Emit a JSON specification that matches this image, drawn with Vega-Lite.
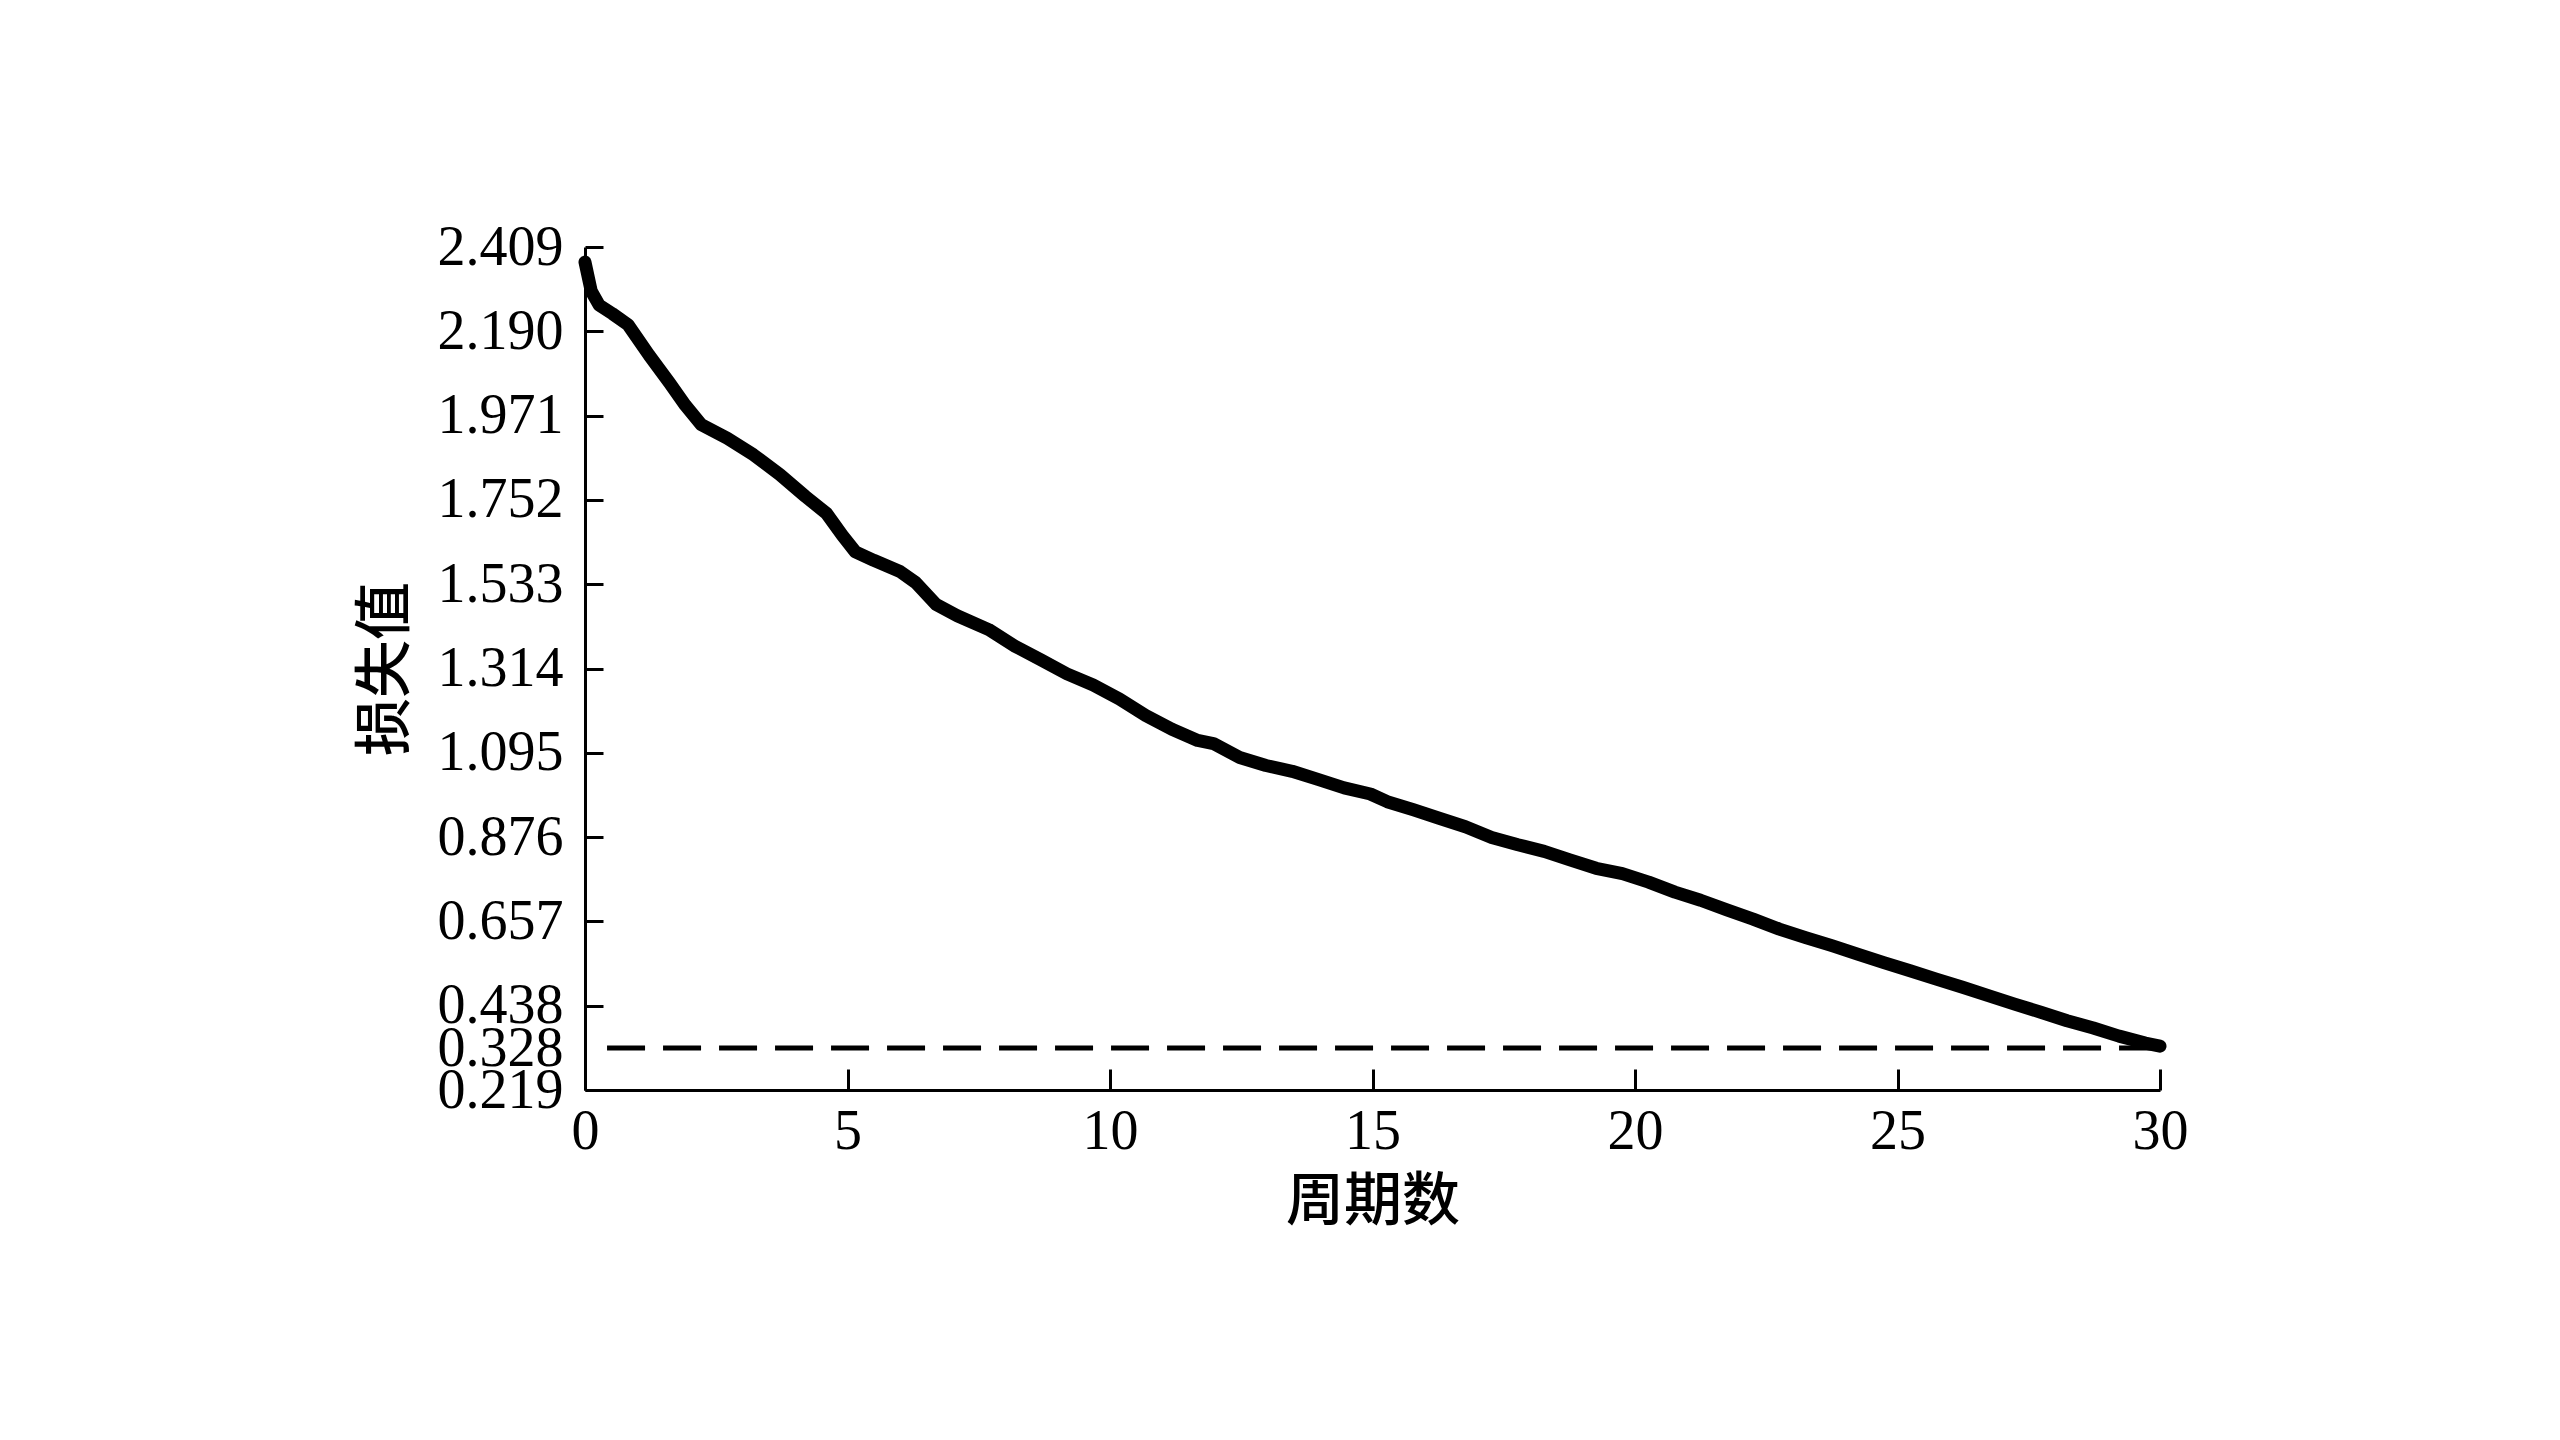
{
  "$schema": "https://vega.github.io/schema/vega-lite/v6.json",
  "description": "Loss value per epoch with a dashed reference level at 0.328.",
  "autosize": "none",
  "padding": {"left": 585, "top": 247, "right": 400, "bottom": 350},
  "width": 1575,
  "height": 843,
  "background": "white",
  "datasets": {
    "curve": [
      {"epoch": 0, "loss": 2.37},
      {"epoch": 0.12, "loss": 2.294},
      {"epoch": 0.27, "loss": 2.258},
      {"epoch": 0.52, "loss": 2.236},
      {"epoch": 0.82, "loss": 2.207},
      {"epoch": 1.22, "loss": 2.128},
      {"epoch": 1.61, "loss": 2.056},
      {"epoch": 1.91, "loss": 1.998},
      {"epoch": 2.21, "loss": 1.948},
      {"epoch": 2.71, "loss": 1.912},
      {"epoch": 3.21, "loss": 1.869},
      {"epoch": 3.71, "loss": 1.818},
      {"epoch": 4.2, "loss": 1.761},
      {"epoch": 4.6, "loss": 1.717},
      {"epoch": 4.9, "loss": 1.66},
      {"epoch": 5.15, "loss": 1.617},
      {"epoch": 5.5, "loss": 1.595},
      {"epoch": 6.0, "loss": 1.566},
      {"epoch": 6.3, "loss": 1.537},
      {"epoch": 6.69, "loss": 1.48},
      {"epoch": 7.09, "loss": 1.451},
      {"epoch": 7.69, "loss": 1.415},
      {"epoch": 8.19, "loss": 1.372},
      {"epoch": 8.69, "loss": 1.336},
      {"epoch": 9.18, "loss": 1.3},
      {"epoch": 9.68, "loss": 1.271},
      {"epoch": 10.18, "loss": 1.235},
      {"epoch": 10.68, "loss": 1.192},
      {"epoch": 11.18, "loss": 1.156},
      {"epoch": 11.67, "loss": 1.127},
      {"epoch": 11.97, "loss": 1.119},
      {"epoch": 12.47, "loss": 1.083},
      {"epoch": 12.97, "loss": 1.062},
      {"epoch": 13.47, "loss": 1.047},
      {"epoch": 13.96, "loss": 1.026},
      {"epoch": 14.46, "loss": 1.004},
      {"epoch": 14.96, "loss": 0.988},
      {"epoch": 15.28, "loss": 0.968},
      {"epoch": 15.78, "loss": 0.947},
      {"epoch": 16.27, "loss": 0.925},
      {"epoch": 16.77, "loss": 0.903},
      {"epoch": 17.27, "loss": 0.875},
      {"epoch": 17.77, "loss": 0.856},
      {"epoch": 18.27, "loss": 0.839},
      {"epoch": 18.76, "loss": 0.817},
      {"epoch": 19.26, "loss": 0.795},
      {"epoch": 19.76, "loss": 0.781},
      {"epoch": 20.26, "loss": 0.759},
      {"epoch": 20.76, "loss": 0.733},
      {"epoch": 21.25, "loss": 0.712},
      {"epoch": 21.75, "loss": 0.687},
      {"epoch": 22.25, "loss": 0.663},
      {"epoch": 22.75, "loss": 0.637},
      {"epoch": 23.25, "loss": 0.615},
      {"epoch": 23.75, "loss": 0.594},
      {"epoch": 24.24, "loss": 0.572},
      {"epoch": 24.74, "loss": 0.55},
      {"epoch": 25.24, "loss": 0.529},
      {"epoch": 25.74, "loss": 0.507},
      {"epoch": 26.24, "loss": 0.486},
      {"epoch": 26.73, "loss": 0.464},
      {"epoch": 27.23, "loss": 0.442},
      {"epoch": 27.73, "loss": 0.421},
      {"epoch": 28.23, "loss": 0.399},
      {"epoch": 28.73, "loss": 0.38},
      {"epoch": 29.22, "loss": 0.359},
      {"epoch": 29.72, "loss": 0.341},
      {"epoch": 30, "loss": 0.333}
    ],
    "reference": [
      {"start": 0.42, "end": 30, "loss": 0.328}
    ]
  },
  "config": {
    "view": {"stroke": null},
    "axis": {
      "grid": false,
      "domainColor": "black",
      "domainWidth": 3,
      "tickColor": "black",
      "tickWidth": 3,
      "labelColor": "black",
      "labelFont": "Liberation Serif",
      "labelFontSize": 56,
      "labelFlush": false,
      "titleColor": "black",
      "titleFont": "Noto Sans CJK SC",
      "titleFontSize": 58,
      "titleFontWeight": 500,
      "labelOverlap": false
    }
  },
  "layer": [
    {
      "data": {"name": "reference"},
      "mark": {"type": "rule", "color": "black", "strokeWidth": 5, "strokeDash": [38, 18]},
      "encoding": {
        "x": {"field": "start", "type": "quantitative", "scale": {"domain": [0, 30], "nice": false}},
        "x2": {"field": "end"},
        "y": {"field": "loss", "type": "quantitative", "scale": {"domain": [0.219, 2.409], "nice": false, "zero": false}}
      }
    },
    {
      "data": {"name": "curve"},
      "mark": {"type": "line", "color": "black", "strokeWidth": 13, "strokeJoin": "round", "strokeCap": "round"},
      "encoding": {
        "x": {
          "field": "epoch",
          "type": "quantitative",
          "scale": {"domain": [0, 30], "nice": false},
          "axis": {
            "title": "周期数",
            "values": [0, 5, 10, 15, 20, 25, 30],
            "tickSize": -21,
            "labelPadding": 35,
            "titlePadding": 14
          }
        },
        "y": {
          "field": "loss",
          "type": "quantitative",
          "scale": {"domain": [0.219, 2.409], "nice": false, "zero": false},
          "axis": {
            "title": "损失值",
            "values": [0.219, 0.328, 0.438, 0.657, 0.876, 1.095, 1.314, 1.533, 1.752, 1.971, 2.19, 2.409],
            "format": ".3f",
            "tickSize": -18,
            "tickOpacity": {"condition": {"test": "abs(datum.value - 0.328) < 0.001", "value": 0}, "value": 1},
            "labelPadding": 40,
            "titlePadding": 22
          }
        }
      }
    }
  ]
}
